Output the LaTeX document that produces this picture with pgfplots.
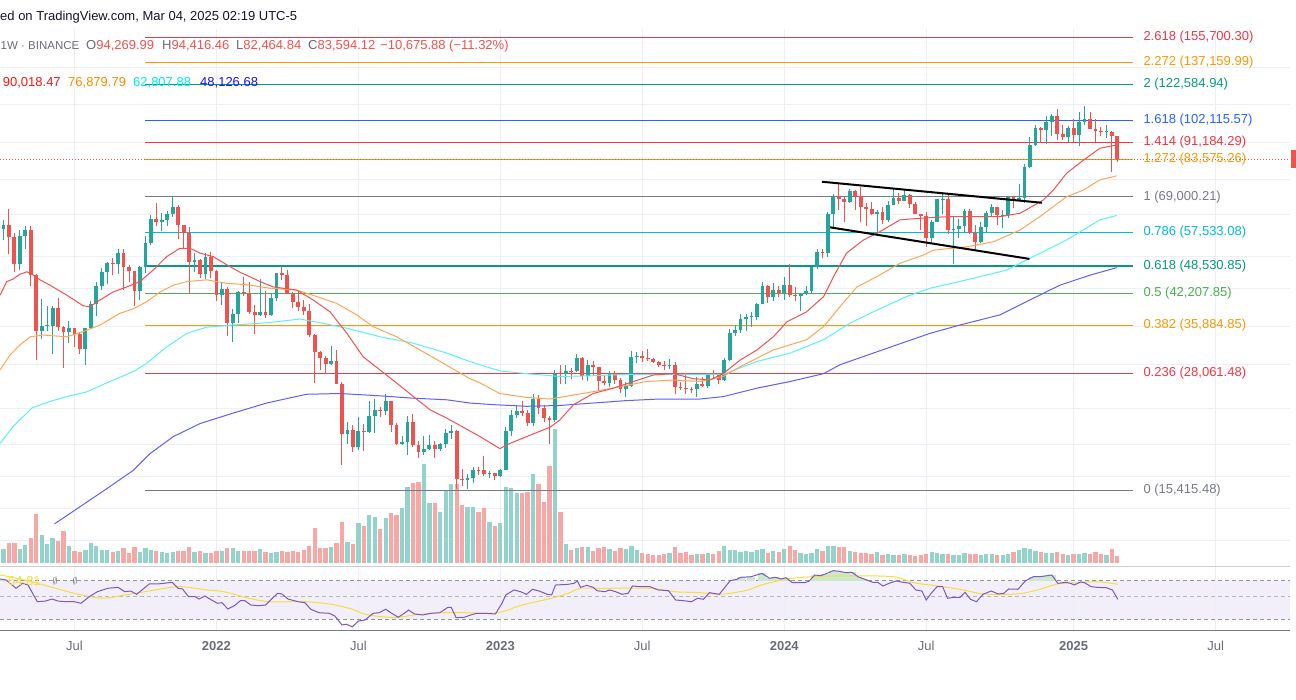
\documentclass[border=0pt]{standalone}
\usepackage{pgfplots}
\pgfplotsset{compat=1.18}
\usepackage{pgfplotstable}
\usepackage{fontspec}
\setmainfont{Liberation Sans}

\definecolor{cup}{RGB}{38,166,154}
\definecolor{cdn}{RGB}{239,83,80}
\definecolor{volup}{RGB}{146,211,204}
\definecolor{voldn}{RGB}{247,168,166}
\definecolor{emared}{RGB}{242,82,82}
\definecolor{emaora}{RGB}{255,165,85}
\definecolor{emacya}{RGB}{90,240,250}
\definecolor{emablu}{RGB}{95,95,255}
\definecolor{fred}{RGB}{242,54,69}
\definecolor{fora}{RGB}{255,152,0}
\definecolor{fteal}{RGB}{8,153,129}
\definecolor{fblue}{RGB}{41,98,255}
\definecolor{fgray}{RGB}{120,123,134}
\definecolor{fcyan}{RGB}{0,188,212}
\definecolor{fgreen}{RGB}{76,175,80}
\definecolor{rsip}{RGB}{126,87,194}
\definecolor{rsiy}{RGB}{247,222,60}
\definecolor{band}{RGB}{242,239,250}
\definecolor{rsigr}{RGB}{203,233,205}
\definecolor{gridc}{RGB}{236,240,246}
\definecolor{txt}{RGB}{19,23,34}
\definecolor{txtg}{RGB}{106,109,120}

\newcommand\hfont{\fontsize{13pt}{15pt}\selectfont}
\pgfplotsset{ebar/.style={only marks, mark=none, mark size=0pt, mark options={draw=none, fill=none}, forget plot}}

% weekly BTCUSDT candles, prices in thousands, v = volume bar height
\pgfplotstableread{
n o h l c v
-39 58.73 61.20 55.50 59.77 14
-38 59.77 64.85 51.50 56.15 20
-37 56.15 57.50 47.00 49.07 20
-36 49.07 58.45 47.50 56.58 14
-35 56.58 59.50 53.00 58.24 18
-34 58.24 59.60 43.80 46.43 25
-33 46.43 46.60 30.00 34.77 49
-32 34.77 40.90 33.40 35.66 28
-31 35.66 39.50 34.80 35.80 19
-30 35.80 39.50 31.00 39.10 25
-29 39.10 41.30 34.80 35.60 22
-28 35.60 35.70 28.80 34.70 32
-27 34.70 36.60 32.70 35.29 17
-26 35.29 35.40 32.10 34.24 12
-25 34.24 34.70 31.00 31.78 11
-24 31.78 35.40 29.30 35.40 13
-23 35.40 40.50 35.10 39.86 20
-22 39.86 44.70 37.50 43.80 17
-21 43.80 48.10 43.00 47.08 13
-20 47.08 49.40 44.20 49.25 13
-19 49.25 50.50 46.30 48.90 11
-18 48.90 52.90 46.50 51.78 12
-17 51.78 52.90 43.00 48.31 15
-16 48.31 48.80 44.70 47.26 10
-15 47.26 47.30 39.60 42.70 16
-14 42.70 48.50 40.80 48.20 11
-13 48.20 56.50 46.90 54.66 15
-12 54.66 62.90 54.00 61.53 13
-11 61.53 67.00 59.50 60.86 12
-10 60.86 63.70 58.00 61.30 11
-9 61.30 64.30 59.50 63.27 10
-8 63.27 69.00 62.30 65.47 11
-7 65.47 66.30 55.60 59.72 12
-6 59.72 59.90 53.30 57.27 12
-5 57.27 59.20 42.00 49.40 16
-4 49.40 51.90 47.10 50.10 11
-3 50.10 50.20 45.60 46.68 12
-2 46.68 51.90 45.50 50.78 10
-1 50.78 52.10 45.70 47.29 10
0 47.29 47.60 40.60 41.86 12
1 41.86 44.40 39.70 43.08 12
2 43.08 43.50 34.00 36.28 15
3 36.28 38.90 32.90 37.92 15
4 37.92 42.60 36.30 42.41 12
5 42.41 45.80 41.70 42.20 12
6 42.20 44.80 38.00 38.40 12
7 38.40 39.80 34.30 37.70 12
8 37.70 45.40 37.50 38.42 14
9 38.42 42.60 37.20 37.78 11
10 37.78 42.30 37.60 41.26 10
11 41.26 46.80 40.50 46.82 11
12 46.82 48.20 45.20 46.40 12
13 46.40 47.50 42.10 42.15 11
14 42.15 42.40 39.20 40.38 12
15 40.38 42.90 38.50 39.45 11
16 39.45 40.80 37.70 38.47 13
17 38.47 40.00 33.70 34.06 17
18 34.06 34.20 26.70 31.33 35
19 31.33 31.40 28.60 30.29 15
20 30.29 30.60 28.00 29.44 15
21 29.44 32.30 29.30 29.90 16
22 29.90 31.60 26.50 26.57 20
23 26.57 26.80 17.60 20.55 41
24 20.55 21.90 19.60 21.03 21
25 21.03 21.50 18.80 19.30 19
26 19.30 22.40 19.00 20.84 40
27 20.84 21.60 18.90 20.78 37
28 20.78 24.30 20.70 22.58 48
29 22.58 24.60 20.70 23.30 46
30 23.30 23.60 22.40 23.18 34
31 23.18 25.20 22.70 24.30 45
32 24.30 24.40 20.80 21.52 50
33 21.52 21.80 19.50 19.55 48
34 19.55 20.40 19.50 19.80 55
35 19.80 22.50 18.50 21.82 76
36 21.82 22.80 19.30 19.42 80
37 19.42 19.90 18.20 18.80 81
38 18.80 20.40 18.50 19.06 99
39 19.06 20.50 19.00 19.42 60
40 19.42 19.90 18.20 19.07 60
41 19.07 19.70 18.90 19.57 51
42 19.57 21.10 19.20 20.63 72
43 20.63 21.50 20.10 20.90 79
44 20.90 21.00 15.50 16.33 79
45 16.33 17.20 15.80 16.28 58
46 16.28 16.80 15.50 16.46 56
47 16.46 17.40 16.00 17.10 56
48 17.10 17.40 16.70 17.08 51
49 17.08 18.40 16.60 16.78 55
50 16.78 17.00 16.40 16.84 41
51 16.84 16.90 16.30 16.60 37
52 16.60 17.20 16.50 17.13 40
53 17.13 21.30 17.10 20.87 76
54 20.87 23.30 20.40 22.70 75
55 22.70 23.80 22.30 23.12 70
56 23.12 24.30 22.60 22.93 70
57 22.93 23.20 21.40 21.78 71
58 21.78 25.20 21.40 24.63 89
59 24.63 25.10 22.80 23.55 79
60 23.55 23.90 21.90 22.35 61
61 22.35 22.60 19.60 22.10 97
62 22.10 28.50 21.90 27.99 134
63 27.99 29.20 26.60 27.98 51
64 27.98 29.20 26.60 28.45 19
65 28.45 28.80 27.20 28.32 13
66 28.32 31.00 28.20 30.30 15
67 30.30 30.50 27.10 27.60 16
68 27.60 30.00 26.90 29.23 16
69 29.23 29.80 27.70 28.90 12
70 28.90 29.00 25.80 26.92 15
71 26.92 27.60 26.40 26.75 16
72 26.75 28.40 26.10 28.08 14
73 28.08 28.40 26.60 27.12 12
74 27.12 27.40 25.40 25.90 15
75 25.90 26.80 24.80 26.34 14
76 26.34 31.40 26.20 30.54 17
77 30.54 31.30 29.50 30.60 13
78 30.60 31.50 29.70 30.29 10
79 30.29 31.80 29.90 30.23 9
80 30.23 30.40 29.60 29.79 8
81 29.79 29.90 28.90 29.23 8
82 29.23 29.90 28.60 29.07 9
83 29.07 30.20 28.70 29.28 10
84 29.28 29.70 25.20 26.10 16
85 26.10 26.80 25.80 26.00 10
86 26.00 28.10 25.30 25.84 11
87 25.84 26.20 25.40 25.83 8
88 25.83 27.50 24.90 26.53 9
89 26.53 27.50 26.20 26.25 9
90 26.25 28.10 26.00 27.97 10
91 27.97 28.60 27.20 27.92 9
92 27.92 28.00 26.50 27.15 12
93 27.15 30.40 26.90 29.99 17
94 29.99 35.20 29.80 34.50 13
95 34.50 35.90 33.90 35.01 13
96 35.01 37.90 34.50 37.06 11
97 37.06 37.90 34.80 37.38 12
98 37.38 38.40 35.60 37.45 11
99 37.45 40.20 36.80 39.97 13
100 39.97 44.70 39.90 43.79 14
101 43.79 44.00 40.20 41.37 10
102 41.37 44.40 40.60 42.99 12
103 42.99 43.80 41.50 42.28 11
104 42.28 45.90 40.80 43.93 14
105 43.93 49.00 41.50 41.73 17
106 41.73 43.60 40.60 41.58 13
107 41.58 42.30 38.50 42.03 10
108 42.03 43.90 41.80 42.60 9
109 42.60 48.60 42.30 48.30 10
110 48.30 52.80 47.70 52.14 14
111 52.14 52.90 50.50 51.73 12
112 51.73 64.00 50.90 63.11 17
113 63.11 70.10 59.00 68.96 17
114 68.96 73.80 64.50 68.39 16
115 68.39 68.90 60.80 67.21 16
116 67.21 71.80 66.80 71.28 12
117 71.28 71.40 64.50 69.36 11
118 69.36 72.80 60.70 65.66 10
119 65.66 66.90 59.60 64.94 10
120 64.94 67.20 62.80 63.12 9
121 63.12 64.70 56.50 63.90 11
122 63.90 65.50 60.20 61.48 8
123 61.48 67.70 60.70 66.27 9
124 66.27 71.90 66.20 68.51 8
125 68.51 70.60 66.70 67.77 8
126 67.77 71.90 67.50 69.65 9
127 69.65 70.20 65.10 66.68 8
128 66.68 67.20 63.20 63.21 7
129 63.21 63.40 58.40 62.68 8
130 62.68 63.80 53.50 55.85 9
131 55.85 61.40 54.30 60.80 11
132 60.80 68.40 60.60 68.16 10
133 68.16 70.00 63.40 68.25 9
134 68.25 70.00 57.10 58.16 9
135 58.16 62.70 49.00 58.71 8
136 58.71 61.80 56.10 59.49 8
137 59.49 65.00 57.80 64.22 10
138 64.22 64.90 57.20 57.30 9
139 57.30 59.80 52.60 54.87 9
140 54.87 60.60 54.60 59.13 8
141 59.13 64.10 57.50 63.58 9
142 63.58 66.50 62.70 65.60 9
143 65.60 65.70 59.80 62.82 8
144 62.82 64.50 58.90 62.85 8
145 62.85 69.40 62.00 69.00 9
146 69.00 69.50 65.10 68.02 11
147 68.02 73.60 67.50 68.78 13
148 68.78 81.50 66.80 80.37 15
149 80.37 93.50 80.20 89.84 14
150 89.84 99.60 89.40 97.90 12
151 97.90 98.70 90.80 97.19 11
152 97.19 104.10 90.50 101.10 10
153 101.10 105.20 94.20 104.46 10
154 104.46 108.40 92.20 95.19 11
155 95.19 99.90 92.50 93.73 9
156 93.73 99.00 91.50 98.36 8
157 98.36 102.70 91.20 94.52 9
158 94.52 106.40 89.30 101.30 9
159 101.30 109.60 99.50 102.62 10
160 102.62 106.50 97.60 97.70 9
161 97.70 102.50 91.20 96.46 11
162 96.46 98.80 94.10 96.12 9
163 96.12 99.50 93.30 96.25 8
164 96.25 96.50 78.30 94.27 14
165 94.27 94.42 82.46 83.59 7
}\ohlc

\pgfplotstableread{
n p
-39.63 41.8
-38.4 44.8
-37.2 45.4
-36.0 46.5
-34.7 47.1
-33.5 46.3
-32.3 45.2
-30.5 44.0
-27.4 41.8
-24.4 39.6
-23.2 39.4
-21.3 40.8
-18.9 42.5
-16.4 43.6
-14.0 44.8
-11.6 47.5
-9.1 50.9
-6.7 53.1
-4.8 53.1
-3.0 51.8
-0.6 50.9
1.9 48.8
4.3 47.0
5.5 46.3
8.0 44.8
10.4 43.6
14.7 42.9
17.7 40.8
20.8 38.4
23.9 34.4
26.9 30.5
30.0 28.5
33.0 26.7
36.1 24.9
39.1 23.3
42.2 22.3
44.6 21.5
48.3 20.3
51.9 19.1
53.7 19.6
56.8 20.3
61.1 21.3
62.9 22.1
65.4 23.9
69.0 25.3
72.7 26.0
76.4 26.9
80.0 27.8
83.7 28.0
87.3 27.3
90.4 27.1
92.8 28.0
95.9 30.0
99.0 31.6
102.0 33.8
104.5 36.5
108.1 38.4
111.2 41.5
113.0 45.9
115.4 51.8
118.5 55.4
121.5 57.8
125.2 61.4
128.9 61.9
133.8 62.4
138.6 62.4
143.5 62.4
147.2 63.5
151.4 67.9
153.3 71.5
155.7 77.9
158.8 83.3
161.8 88.5
164.9 90.0
}\emaA

\pgfplotstableread{
n p
-39.63 28.5
-37.8 30.8
-36.0 32.4
-34.1 33.8
-31.7 34.1
-27.4 33.8
-24.4 34.7
-21.3 35.9
-17.7 38.1
-15.2 39.0
-12.8 40.4
-10.3 42.5
-7.9 44.0
-5.4 44.8
-1.8 45.2
1.9 44.4
4.3 44.2
6.2 44.0
9.8 43.3
14.7 42.9
18.4 41.5
22.0 40.1
25.7 37.8
28.7 35.6
33.0 33.8
36.7 31.9
41.6 29.5
46.4 27.3
48.3 26.7
51.9 25.3
56.8 24.8
61.1 24.6
65.4 25.1
70.3 25.7
73.9 26.2
78.8 26.9
83.7 27.1
88.6 26.9
92.8 27.6
95.9 29.0
102.0 31.6
108.1 33.3
111.2 35.6
114.2 39.4
117.3 43.6
120.9 45.9
125.2 49.2
129.5 51.3
131.3 52.6
137.4 53.5
142.3 54.9
147.2 58.3
150.8 62.4
155.7 69.1
158.8 71.5
161.8 75.3
164.9 76.9
}\emaB

\pgfplotstableread{
n p
-39.63 19.6
-37.2 21.4
-33.8 23.5
-30.5 24.3
-27.4 24.9
-23.8 25.5
-19.5 26.9
-15.2 28.3
-12.8 29.5
-9.1 32.1
-5.4 34.4
-1.8 35.5
3.1 35.9
9.2 36.3
15.3 37.0
19.6 36.2
23.9 35.3
30.0 33.8
36.1 32.7
42.2 31.1
46.4 29.8
48.3 29.3
51.9 28.4
56.8 28.0
62.9 27.6
69.0 27.7
75.1 27.9
81.2 27.9
88.6 27.9
92.8 27.9
99.0 29.8
105.1 31.1
111.2 33.3
116.0 36.2
120.3 38.4
126.4 41.5
130.7 43.3
137.4 45.2
144.7 47.5
149.6 50.9
155.7 55.4
161.8 61.4
164.9 62.8
}\emaC

\pgfplotstableread{
n p
-29.65 13.0
-20.3 15.5
-15.2 17.1
-12.2 18.6
-7.9 20.3
-3.0 21.7
3.1 22.9
9.2 24.1
16.5 25.2
22.6 25.3
30.0 25.0
36.1 24.7
42.2 24.5
46.4 24.1
50.7 23.9
56.8 23.7
62.9 23.8
69.0 24.1
75.1 24.4
81.2 24.6
88.6 24.6
92.8 24.9
99.0 26.0
105.1 26.9
111.2 28.0
114.2 29.3
120.3 31.1
126.4 33.0
130.7 34.4
136.2 35.9
143.5 37.8
149.0 40.8
154.5 44.0
160.0 46.3
164.9 48.1
}\emaD

\pgfplotstableread{
n r
-39.6 71.8
-38.5 70.7
-36.7 62.1
-35.5 67.3
-34.5 65.5
-32.8 48.2
-31.3 48.9
-30.1 51.0
-29.0 48.9
-27.5 48.2
-26.0 48.2
-24.8 46.6
-23.3 53.4
-21.8 58.6
-19.9 62.1
-18.0 63.1
-16.8 58.6
-15.7 59.3
-14.6 55.9
-12.3 66.6
-10.8 66.6
-9.6 67.3
-8.1 68.3
-7.0 62.1
-6.2 61.4
-5.1 53.4
-3.9 53.4
-3.2 51.0
-2.1 54.1
-0.9 50.0
0.2 46.6
1.0 47.2
2.1 40.7
3.3 44.1
4.4 49.3
5.2 49.3
6.3 44.8
7.8 44.1
9.0 44.8
10.1 51.0
11.2 56.9
12.0 56.2
13.1 51.0
15.0 48.2
16.2 47.2
17.3 40.4
18.8 36.8
20.7 36.2
21.7 33.4
23.0 24.1
23.8 24.8
24.9 22.3
26.0 28.2
27.2 29.2
28.7 36.2
29.8 36.8
31.0 40.4
32.1 36.2
33.3 32.1
34.4 36.2
35.2 39.6
36.3 35.5
37.8 34.5
39.3 36.2
40.9 36.8
42.4 42.4
43.0 42.4
43.9 31.7
45.4 32.1
46.6 34.5
47.7 36.2
49.2 36.2
51.1 35.5
52.3 46.6
53.0 55.2
54.5 60.4
55.7 58.6
56.8 55.9
57.9 61.1
59.1 59.3
60.6 55.9
61.4 55.2
62.1 65.5
64.4 66.2
65.5 67.3
66.1 69.7
66.7 63.1
67.8 65.2
69.0 63.1
69.7 59.6
71.2 58.6
72.0 60.4
73.1 58.6
74.3 55.9
75.4 56.9
76.2 64.5
77.7 63.8
79.4 63.8
80.9 60.4
82.8 59.6
84.1 50.0
85.5 49.3
87.0 48.2
88.1 51.8
89.2 50.7
90.3 57.6
92.1 55.9
94.1 70.0
95.3 71.4
96.0 73.5
97.9 74.1
99.9 77.6
101.3 72.5
102.4 73.5
103.4 71.8
104.3 73.1
105.5 67.9
107.7 67.9
108.5 69.4
109.6 75.9
110.7 75.2
111.5 76.9
113.0 80.4
114.1 79.7
115.3 78.3
116.4 78.7
117.5 74.1
118.6 71.8
120.2 68.3
121.1 68.3
122.1 64.5
123.2 67.3
124.5 69.7
125.8 68.3
127.0 67.3
128.1 60.4
129.2 59.3
130.0 50.0
131.0 57.6
132.0 63.8
133.0 63.8
133.9 51.8
135.1 52.8
136.2 52.8
137.1 58.0
138.1 50.7
139.2 48.2
140.4 55.9
141.9 59.3
143.2 56.2
144.2 56.9
145.1 61.4
146.8 61.1
148.2 70.0
149.6 74.1
150.7 74.1
151.8 74.9
153.0 75.9
154.1 67.3
155.6 68.3
156.4 67.3
157.1 65.5
158.3 68.7
159.0 67.9
160.2 63.8
161.3 63.1
163.0 62.7
164.1 60.4
165.1 50.7
}\rsi

\pgfplotstableread{
n r
-39.6 75.9
-35.1 70.7
-30.5 63.8
-26.0 56.9
-21.0 51.8
-16.8 55.2
-12.3 59.3
-7.0 63.8
-1.7 60.4
1.4 58.6
5.9 51.8
9.7 48.2
13.5 48.2
16.6 48.2
21.1 45.5
24.9 40.4
27.2 35.2
30.2 32.7
33.3 32.1
36.3 34.5
40.9 36.8
45.4 36.8
51.5 36.8
56.0 44.8
61.4 51.8
64.4 56.9
66.7 62.1
70.5 62.1
79.4 62.1
83.9 58.6
88.5 57.6
92.2 55.9
96.8 59.6
99.8 65.5
103.6 70.7
107.3 73.5
113.4 74.9
120.9 74.9
124.7 73.5
127.7 67.9
132.2 64.5
136.8 60.4
140.5 56.2
146.6 56.2
150.4 60.4
154.1 66.6
157.9 67.9
160.9 69.0
163.2 67.9
165.1 66.3
}\rsima

% spans of the horizontal levels, trend lines, grid
\pgfplotstableread{
n d
-13.02 0
167.93 0
}\fibspan
\pgfplotstableread{
n d
-39.634 0
196.63 0
}\fullspan
\pgfplotstableread{
n p
110.9 74.6
151.2 67.0
}\chanup
\pgfplotstableread{
n p
112.4 59.1
148.9 50.3
}\chandn
\pgfplotstableread{
n d
-26 0
0 0
26 0
52 0
78 0
104 0
130 0
157 0
183 0
}\vgrid

% one axis, y in pt from the bottom of the picture:
% price  y = 451*log10(p) - 326.32   (p in thousands, log scale)
% volume y = 137 + v
% RSI    y = 0.965*r + 51.75
\newcommand\hlev[3]{%
  \addplot[#1, line width=#3, forget plot] table[x=n, y expr={#2}] {\fullspan};}
\newcommand\fibline[3]{%
  \addplot[#1, line width=#3, forget plot] table[x=n, y expr={451*log10(#2)-326.32}] {\fibspan};}
\newcommand\fiblab[3]{%
  \pgfmathsetmacro\fy{451*log10(#2)-326.32}%
  \node[anchor=west, inner sep=0pt, text=#1, font=\hfont] at (1143.3pt,\fy pt) {#3};}

\begin{document}
\begin{tikzpicture}
\useasboundingbox (0pt,0pt) rectangle (1296pt,700pt);
\fill[white] (0pt,0pt) rectangle (1296pt,700pt);

\begin{axis}[at={(0pt,0pt)}, anchor=south west, scale only axis,
  width=1290pt, height=700pt,
  xmin=-39.634, xmax=196.63, ymin=0, ymax=700,
  axis line style={draw=none}, tick style={draw=none},
  xtick={-26,0,26,52,78,104,130,157,183},
  xticklabels={Jul,\textbf{2022},Jul,\textbf{2023},Jul,\textbf{2024},Jul,\textbf{2025},Jul},
  ytick=\empty,
  xticklabel style={font=\hfont, text=txtg, anchor=center, yshift=54pt}]

% RSI band and grid
\hlev{band}{100}{38.6pt}
\addplot[ebar,
  error bars/.cd, y dir=plus, y explicit, error mark=none,
  error bar style={draw=gridc, line width=1pt}]
  table[x=n, y expr=69, y error plus expr=602] {\vgrid};
\hlev{gridc}{632}{1pt}
\hlev{gridc}{595}{1pt}
\hlev{gridc}{557}{1pt}
\hlev{gridc}{520}{1pt}
\hlev{gridc}{485}{1pt}
\hlev{gridc}{443.3}{1pt}
\hlev{gridc}{411.7}{1pt}
\hlev{gridc}{373.3}{1pt}
\hlev{gridc}{335}{1pt}
\hlev{gridc}{291.7}{1pt}
\hlev{gridc}{255}{1pt}
\hlev{gridc}{223.3}{1pt}
\hlev{gridc}{191.7}{1pt}
\hlev{gridc}{159}{1pt}
\hlev{gridc}{93.25}{1pt}

% volume
\addplot[ebar,
  restrict expr to domain={\thisrow{c}-\thisrow{o}}{0:1000},
  error bars/.cd, y dir=plus, y explicit, error mark=none,
  error bar style={draw=volup, line width=4.3pt}]
  table[x=n, y expr=137, y error plus expr={\thisrow{v}}] {\ohlc};
\addplot[ebar,
  restrict expr to domain={\thisrow{c}-\thisrow{o}}{-1000:-0.0001},
  error bars/.cd, y dir=plus, y explicit, error mark=none,
  error bar style={draw=voldn, line width=4.3pt}]
  table[x=n, y expr=137, y error plus expr={\thisrow{v}}] {\ohlc};

% Fibonacci levels and last price
\fibline{fred}{155.7003}{1pt}
\fibline{fora}{137.15999}{1pt}
\fibline{fteal}{122.58494}{1pt}
\fibline{fblue}{102.11557}{1pt}
\fibline{fred}{91.18429}{1pt}
\fibline{fora}{83.57526}{1pt}
\fibline{fgray}{69.00021}{1pt}
\fibline{fcyan}{57.53308}{1.5pt}
\fibline{fteal}{48.53085}{1.8pt}
\fibline{fgreen}{42.20785}{1pt}
\fibline{fora}{35.88485}{1pt}
\fibline{fred}{28.06148}{1pt}
\fibline{fgray}{15.41548}{1pt}
\addplot[cdn, line width=0.8pt, dash pattern=on 1pt off 2pt, forget plot]
  table[x=n, y expr={451*log10(83.59)-326.32}] {\fullspan};

% candles
\addplot[ebar,
  restrict expr to domain={\thisrow{c}-\thisrow{o}}{0:1000},
  error bars/.cd, y dir=plus, y explicit, error mark=none,
  error bar style={draw=cup, line width=1pt}]
  table[x=n, y expr={451*log10(\thisrow{l})-326.32},
        y error plus expr={451*(log10(\thisrow{h})-log10(\thisrow{l}))}] {\ohlc};
\addplot[ebar,
  restrict expr to domain={\thisrow{c}-\thisrow{o}}{-1000:-0.0001},
  error bars/.cd, y dir=plus, y explicit, error mark=none,
  error bar style={draw=cdn, line width=1pt}]
  table[x=n, y expr={451*log10(\thisrow{l})-326.32},
        y error plus expr={451*(log10(\thisrow{h})-log10(\thisrow{l}))}] {\ohlc};
\addplot[ebar,
  restrict expr to domain={\thisrow{c}-\thisrow{o}}{0:1000},
  error bars/.cd, y dir=plus, y explicit, error mark=none,
  error bar style={draw=cup, line width=3.8pt}]
  table[x=n, y expr={451*log10(\thisrow{o})-326.32},
        y error plus expr={max(451*(log10(\thisrow{c})-log10(\thisrow{o})),0.8)}] {\ohlc};
\addplot[ebar,
  restrict expr to domain={\thisrow{c}-\thisrow{o}}{-1000:-0.0001},
  error bars/.cd, y dir=plus, y explicit, error mark=none,
  error bar style={draw=cdn, line width=3.8pt}]
  table[x=n, y expr={451*log10(\thisrow{c})-326.32},
        y error plus expr={max(451*(log10(\thisrow{o})-log10(\thisrow{c})),0.8)}] {\ohlc};

% moving averages
\addplot[emablu, line width=1pt] table[x=n, y expr={451*log10(\thisrow{p})-326.32}] {\emaD};
\addplot[emacya, line width=1pt] table[x=n, y expr={451*log10(\thisrow{p})-326.32}] {\emaC};
\addplot[emaora, line width=1pt] table[x=n, y expr={451*log10(\thisrow{p})-326.32}] {\emaB};
\addplot[emared, line width=1pt] table[x=n, y expr={451*log10(\thisrow{p})-326.32}] {\emaA};

% channel
\addplot[black, line width=2pt] table[x=n, y expr={451*log10(\thisrow{p})-326.32}] {\chanup};
\addplot[black, line width=2pt] table[x=n, y expr={451*log10(\thisrow{p})-326.32}] {\chandn};

% RSI panel
\hlev{gridc!70!gray}{134}{0.8pt}
\addplot[fgray!80, line width=0.8pt, dash pattern=on 4pt off 3pt, forget plot] table[x=n, y expr=119.3] {\fullspan};
\addplot[fgray!55, line width=0.8pt, dash pattern=on 4pt off 3pt, forget plot] table[x=n, y expr=103.96] {\fullspan};
\addplot[fgray!80, line width=0.8pt, dash pattern=on 4pt off 3pt, forget plot] table[x=n, y expr=80.7] {\fullspan};
\addplot[ebar,
  restrict expr to domain={\thisrow{r}}{70:100},
  error bars/.cd, y dir=plus, y explicit, error mark=none,
  error bar style={draw=rsigr, line width=8pt}]
  table[x=n, y expr=119.3, y error plus expr={0.965*(\thisrow{r}-70)}] {\rsi};
\addplot[rsiy, line width=1pt, smooth] table[x=n, y expr={0.965*\thisrow{r}+51.75}] {\rsima};
\addplot[rsip, line width=1pt] table[x=n, y expr={0.965*\thisrow{r}+51.75}] {\rsi};
\hlev{fgray}{69}{1pt}
\end{axis}

\fiblab{fred}{155.7003}{2.618 (155,700.30)}
\fiblab{fora}{137.15999}{2.272 (137,159.99)}
\fiblab{fteal}{122.58494}{2 (122,584.94)}
\fiblab{fblue}{102.11557}{1.618 (102,115.57)}
\fiblab{fred}{91.18429}{1.414 (91,184.29)}
\fiblab{fora}{83.57526}{1.272 (83,575.26)}
\fiblab{fgray}{69.00021}{1 (69,000.21)}
\fiblab{fcyan}{57.53308}{0.786 (57,533.08)}
\fiblab{fteal}{48.53085}{0.618 (48,530.85)}
\fiblab{fgreen}{42.20785}{0.5 (42,207.85)}
\fiblab{fora}{35.88485}{0.382 (35,884.85)}
\fiblab{fred}{28.06148}{0.236 (28,061.48)}
\fiblab{fgray}{15.41548}{0 (15,415.48)}

\fill[cdn] (1291pt,532pt) rectangle (1296pt,550pt);

% header
\node[anchor=west, inner sep=0pt, font=\hfont, text=txt] at (0pt,683.3pt) {ed on TradingView.com, Mar 04, 2025 02:19 UTC-5};
\node[anchor=west, inner sep=0pt, font=\fontsize{11.5pt}{14pt}\selectfont, text=txtg] at (0.5pt,654pt) {1W · BINANCE};
\node[anchor=west, inner sep=0pt, font=\hfont] at (86pt,654pt) {\textcolor{txtg}{O}\textcolor{cdn}{94,269.99}};
\node[anchor=west, inner sep=0pt, font=\hfont] at (162pt,654pt) {\textcolor{txtg}{H}\textcolor{cdn}{94,416.46}};
\node[anchor=west, inner sep=0pt, font=\hfont] at (236pt,654pt) {\textcolor{txtg}{L}\textcolor{cdn}{82,464.84}};
\node[anchor=west, inner sep=0pt, font=\hfont] at (308pt,654pt) {\textcolor{txtg}{C}\textcolor{cdn}{83,594.12}};
\node[anchor=west, inner sep=0pt, font=\hfont, text=cdn] at (380pt,654pt) {−10,675.88 (−11.32\%)};
\node[anchor=west, inner sep=0pt, font=\hfont, text={rgb,255:red,255;green,20;blue,20}] at (2.7pt,617.3pt) {90,018.47};
\node[anchor=west, inner sep=0pt, font=\hfont, text={rgb,255:red,255;green,140;blue,0}] at (68pt,617.3pt) {76,879.79};
\node[anchor=west, inner sep=0pt, font=\hfont, text={rgb,255:red,0;green,235;blue,235}] at (133pt,617.3pt) {62,807.88};
\node[anchor=west, inner sep=0pt, font=\hfont, text={rgb,255:red,20;green,20;blue,255}] at (200pt,617.3pt) {48,126.68};

% RSI legend
\node[anchor=west, inner sep=0pt, font=\hfont, text=rsiy] at (8pt,119.3pt) {64.81};
\node[inner sep=0pt, text=txtg] at (55pt,119.3pt) {$\emptyset$};
\node[inner sep=0pt, text=txtg] at (75pt,119.3pt) {$\emptyset$};
\end{tikzpicture}
\end{document}
